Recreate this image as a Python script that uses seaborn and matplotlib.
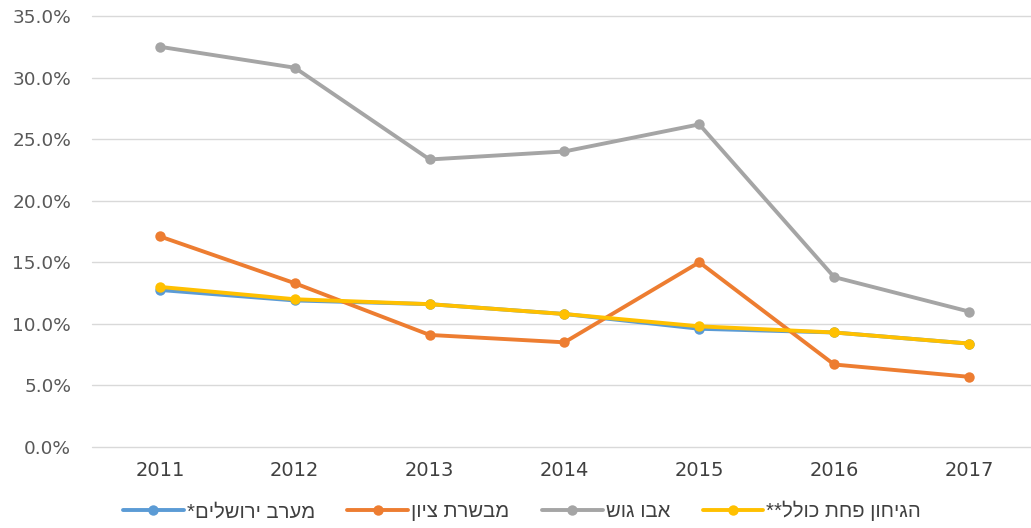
import matplotlib
matplotlib.use("Agg")
import matplotlib.pyplot as plt
import seaborn as sns
import pandas as pd
from matplotlib.ticker import FuncFormatter

years = [2011, 2012, 2013, 2014, 2015, 2016, 2017]
west_jerusalem = [12.75, 11.9, 11.6, 10.8, 9.6, 9.3, 8.4]
mevaseret_zion = [17.1, 13.3, 9.1, 8.5, 15.0, 6.7, 5.7]
abu_gosh = [32.5, 30.8, 23.35, 24.0, 26.2, 13.8, 11.0]
gihon_total = [13.0, 12.0, 11.6, 10.8, 9.8, 9.3, 8.4]

labels = ["מערב ירושלים*", "מבשרת ציון", "אבו גוש", "הגיחון פחת כולל**"]
series = [west_jerusalem, mevaseret_zion, abu_gosh, gihon_total]
colors = ["#5B9BD5", "#ED7D31", "#A5A5A5", "#FFC000"]
y_ticks = [0, 5, 10, 15, 20, 25, 30, 35]


def visual(s):
    # matplotlib has no bidi support: reverse the right-to-left text for display
    return s[::-1]


sns.set_theme(style="white")
plt.rcParams["font.family"] = ["DejaVu Sans"]

fig = plt.figure(figsize=(10.31, 5.28), dpi=100)
ax = fig.add_axes([92 / 1031, 81 / 528, 1 - 92 / 1031, (447 - 16) / 528])

for lab, vals, col in zip(labels, series, colors):
    df = pd.DataFrame({"year": years, "value": vals})
    sns.lineplot(data=df, x="year", y="value", ax=ax, color=col, linewidth=2.8,
                 marker="o", markersize=7.5, markeredgewidth=0, label=visual(lab))

ax.set_xlim(2011 - 0.504, 2011 + 6.46)
ax.set_ylim(0, 35)
ax.set_yticks(y_ticks)
ax.yaxis.set_major_formatter(FuncFormatter(lambda v, p: f"{v:.1f}%"))
ax.set_xticks(years)
ax.set_xticklabels([str(y) for y in years])
ax.grid(axis="y", color="#D9D9D9", linewidth=1.0)
ax.grid(axis="x", visible=False)
ax.set_axisbelow(True)
for gl in ax.get_ygridlines():
    gl.set_clip_on(False)
for s in ax.spines.values():
    s.set_visible(False)
ax.tick_params(axis="y", length=0, pad=15, labelsize=13.3, labelcolor="#595959")
ax.tick_params(axis="x", length=0, pad=10, labelsize=14, labelcolor="#404040")
ax.set_xlabel("")
ax.set_ylabel("")

handles, leg_labels = ax.get_legend_handles_labels()
ax.get_legend().remove()
fig.legend(handles, leg_labels, loc="center", bbox_to_anchor=(522 / 1031, 17 / 528),
           ncol=4, frameon=False, handlelength=3.0, columnspacing=1.6,
           handletextpad=0.15, labelcolor="#404040",
           prop={"family": ["Liberation Sans", "DejaVu Sans"], "size": 14.6})

fig.savefig("out.png", dpi=100)
